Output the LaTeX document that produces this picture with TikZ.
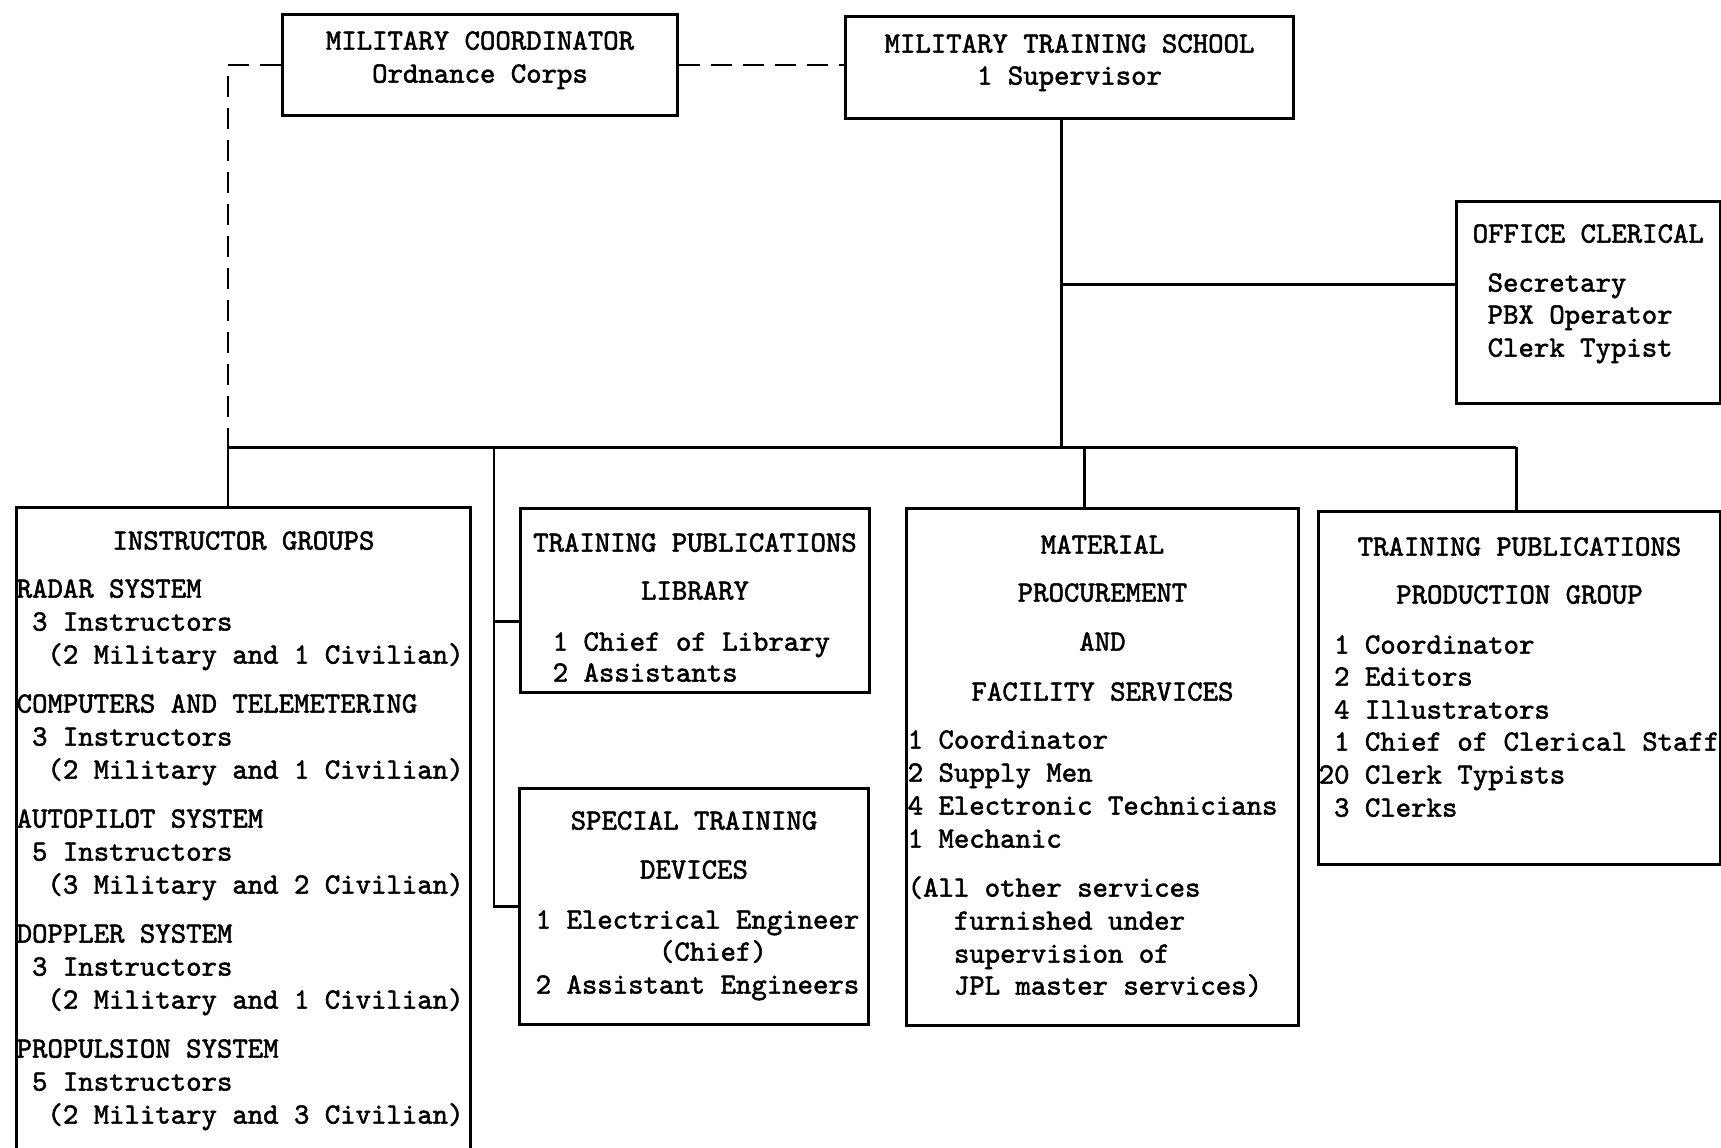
\documentclass[tikz,border=0pt]{standalone}
\usepackage{fontspec}
\newfontfamily\typer{lmmono10-regular.otf}[FakeBold=1.8]
\usetikzlibrary{positioning}
\newcommand{\ind}{\hphantom{0}}

\begin{document}
\begin{tikzpicture}[
  x=0.1mm, y=-0.1mm,
  font=\typer\fontsize{8.35pt}{10pt}\selectfont,
  box/.style={draw, line width=0.85pt, inner sep=0pt, anchor=north west},
  head/.style={inner sep=0pt, anchor=mid},
  item/.style={inner sep=0pt, anchor=mid west},
  link/.style={line width=0.85pt},
  staff/.style={link, dash pattern=on 2.1mm off 1.1mm}
]
  \useasboundingbox (0,0) rectangle (1721,1147);
  \clip (0,0) rectangle (1721,1147);

  % boxes
  \node[box, minimum width=39.5mm, minimum height=10.1mm] (milcoord) at (281,13) {};
  \node[box, minimum width=44.8mm, minimum height=10.2mm] (school) at (844,15) {};
  \node[box, minimum width=26.4mm, minimum height=20.2mm] (office) at (1455,200) {};
  \node[box, minimum width=45.4mm, minimum height=70mm] (instr) at (15,506) {};
  \node[box, minimum width=34.9mm, minimum height=18.4mm] (library) at (519,507) {};
  \node[box, minimum width=34.9mm, minimum height=23.6mm] (devices) at (518,787) {};
  \node[box, minimum width=39.2mm, minimum height=51.7mm] (material) at (905,507) {};
  \node[box, minimum width=40.2mm, minimum height=35.3mm] (production) at (1317,510) {};

  % texts
  \node[head] (milcoord-1) at (milcoord.north |- 0,42) {MILITARY COORDINATOR};
  \node[head] (milcoord-2) at (milcoord.north |- 0,75) {Ordnance Corps};
  \node[head] (school-1) at (school.north |- 0,45) {MILITARY TRAINING SCHOOL};
  \node[head] (school-2) at (school.north |- 0,77) {1 Supervisor};

  \node[item] (office-0) at (1472,235) {OFFICE CLERICAL};
  \foreach \y/\t [count=\i] in {284/Secretary, 316/PBX Operator, 349/Clerk Typist}
    \node[item] (office-\i) at (1487,\y) {\t};

  \node[head] (instr-0) at (instr.north |- 0,542) {INSTRUCTOR GROUPS};
  \foreach \g/\n/\m/\c [count=\i from 0] in {RADAR SYSTEM/3/2/1,
      COMPUTERS AND TELEMETERING/3/2/1, AUTOPILOT SYSTEM/5/3/2,
      DOPPLER SYSTEM/3/2/1, PROPULSION SYSTEM/5/2/3} {
    \pgfmathsetmacro\yy{590+115*\i}
    \node[item] (grp-\i) at (16,\yy) {\g};
    \node[item] (grp-\i-a) at (16,\yy+33) {\ind\n{} Instructors};
    \node[item] (grp-\i-b) at (16,\yy+66) {\ind\ind(\m{} Military and \c{} Civilian)};
  }

  \node[head] (library-1) at (library.north |- 0,544) {TRAINING PUBLICATIONS};
  \node[head] (library-2) at (library.north |- 0,592) {LIBRARY};
  \foreach \y/\t [count=\i] in {643/1 Chief of Library, 674/2 Assistants}
    \node[item] (library-item-\i) at (552,\y) {\t};

  \node[head] (devices-1) at (devices.north |- 0,822) {SPECIAL TRAINING};
  \node[head] (devices-2) at (devices.north |- 0,871) {DEVICES};
  \foreach \y/\t [count=\i] in {921/1 Electrical Engineer,
      953/\ind\ind\ind\ind\ind\ind\ind\ind(Chief), 986/2 Assistant Engineers}
    \node[item] (devices-item-\i) at (535,\y) {\t};

  \foreach \y/\t [count=\i] in {546/MATERIAL, 594/PROCUREMENT, 643/AND,
      693/FACILITY SERVICES}
    \node[head] (material-\i) at (material.north |- 0,\y) {\t};
  \foreach \y/\t [count=\i] in {741/1 Coordinator, 774/2 Supply Men,
      807/4 Electronic Technicians, 840/1 Mechanic, 889/(All other services,
      922/\ind\ind\ind furnished under, 955/\ind\ind\ind supervision of,
      987/\ind\ind\ind JPL master services)}
    \node[item] (material-item-\i) at (907,\y) {\t};

  \node[head] (production-1) at (production.north |- 0,548) {TRAINING PUBLICATIONS};
  \node[head] (production-2) at (production.north |- 0,596) {PRODUCTION GROUP};
  \foreach \y/\t [count=\i] in {646/\ind1 Coordinator, 678/\ind2 Editors,
      711/\ind4 Illustrators, 743/\ind1 Chief of Clerical Staff,
      776/20 Clerk Typists, 809/\ind3 Clerks}
    \node[item] (production-item-\i) at (1318,\y) {\t};

  % connectors
  \coordinate (bus-l) at (228,447);
  \coordinate (bus-r) at (1516,447);
  \coordinate (trunk) at (494,447);
  \coordinate (sc) at ([xshift=-0.8mm]school.south);
  \coordinate (oc) at ([yshift=1.8mm]office.west);
  \coordinate (lib) at ([yshift=-2.1mm]library.west);
  \coordinate (mat) at ([xshift=-1.8mm]material.north);

  \draw[staff] (milcoord.east) -- (milcoord.east -| school.west);
  \draw[staff] (milcoord.west) -| (bus-l);
  \draw[link] (sc) -- (sc |- bus-l);
  \draw[link] (oc -| sc) -- (oc);
  \draw[link] (bus-l) -- (bus-r);
  \draw[link] (bus-l) -- (bus-l |- instr.north);
  \draw[link] (trunk) |- (devices.west);
  \draw[link] (trunk |- lib) -- (lib);
  \draw[link] (mat |- bus-l) -- (mat);
  \draw[link] (bus-r) -- (bus-r |- production.north);
\end{tikzpicture}
\end{document}
